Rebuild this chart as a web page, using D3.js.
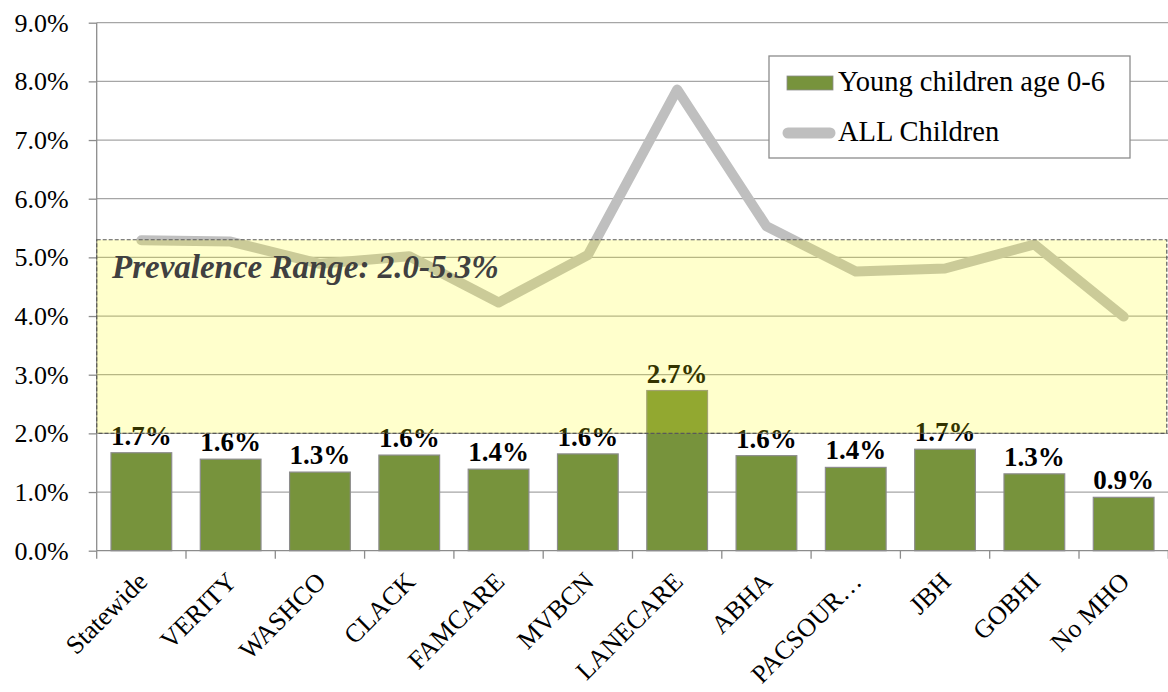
<!DOCTYPE html>
<html lang="en">
<head>
<meta charset="utf-8">
<title>Young children vs all children</title>
<script src="https://d3js.org/d3.v7.min.js"></script>
<style>
    body { margin: 0; background: white; }
    svg text { font-family: "Liberation Serif", "Times New Roman", serif; }
    .grid line { stroke: #a6a6a6; stroke-width: 1.3px; }
    .axis path, .axis line { stroke: #8c8c8c; stroke-width: 1.3px; }
</style>
</head>
<body>
<svg width="1168" height="692"></svg>
<script>
    // data
    var categories = ["Statewide", "VERITY", "WASHCO", "CLACK", "FAMCARE", "MVBCN",
        "LANECARE", "ABHA", "PACSOUR\u2026", "JBH", "GOBHI", "No MHO"];
    var youngChildren = [1.67, 1.56, 1.34, 1.63, 1.39, 1.65, 2.73, 1.62, 1.42, 1.73, 1.31, 0.91];
    var youngLabels = ["1.7%", "1.6%", "1.3%", "1.6%", "1.4%", "1.6%", "2.7%", "1.6%", "1.4%", "1.7%", "1.3%", "0.9%"];
    var allChildren = [5.29, 5.27, 4.89, 5.02, 4.23, 5.04, 7.86, 5.53, 4.76, 4.81, 5.22, 3.99];
    var yTicks = [0, 1, 2, 3, 4, 5, 6, 7, 8, 9];
    var prevalenceRange = [2.0, 5.3];

    var svg = d3.select("svg");

    // plot box (note: "top" is reserved on window, so use other names)
    var plotL = 96.7, plotR = 1168.3, plotT = 22.7, plotB = 550.7;

    var x = d3.scaleBand().domain(categories).range([plotL, plotR]).padding(0);
    var y = d3.scaleLinear().domain([0, 9]).range([plotB, plotT]);
    var barW = x.bandwidth() * 0.68;

    // gridlines
    svg.append("g")
        .attr("class", "grid")
        .selectAll("line")
        .data(yTicks.filter(function(d) { return d > 0; }))
        .enter().append("line")
        .attr("x1", plotL).attr("x2", plotR)
        .attr("y1", function(d) { return y(d); })
        .attr("y2", function(d) { return y(d); });

    // y axis
    var yAxis = svg.append("g")
        .attr("class", "axis")
        .attr("transform", "translate(" + plotL + ",0)")
        .call(d3.axisLeft(y).tickValues(yTicks).tickSize(8).tickPadding(20)
            .tickFormat(function(d) { return d.toFixed(1) + "%"; }));
    yAxis.select(".domain").attr("d", "M0," + plotB + "V" + plotT);
    yAxis.selectAll("text")
        .attr("font-size", "26px")
        .attr("font-family", "Liberation Serif, Times New Roman, serif")
        .attr("fill", "#000");

    // bars
    svg.selectAll(".bar")
        .data(categories)
        .enter().append("rect")
        .attr("class", "bar")
        .attr("x", function(d) { return x(d) + (x.bandwidth() - barW) / 2; })
        .attr("width", barW)
        .attr("y", function(d, i) { return y(youngChildren[i]); })
        .attr("height", function(d, i) { return plotB - y(youngChildren[i]); })
        .attr("fill", "#77933c")
        .attr("stroke", "#8c8c8c")
        .attr("stroke-width", 1.2);

    // x axis
    var xAxis = svg.append("g")
        .attr("class", "axis")
        .attr("transform", "translate(0," + plotB + ")");
    xAxis.append("line")
        .attr("x1", plotL).attr("x2", plotR)
        .attr("y1", 0).attr("y2", 0);
    xAxis.selectAll(".tick")
        .data(categories.concat(["end"]))
        .enter().append("line")
        .attr("x1", function(d, i) { return plotL + i * x.step(); })
        .attr("x2", function(d, i) { return plotL + i * x.step(); })
        .attr("y1", 0).attr("y2", 8);

    svg.selectAll(".xlabel")
        .data(categories)
        .enter().append("text")
        .attr("class", "xlabel")
        .attr("transform", function(d) {
            return "translate(" + (x(d) + x.bandwidth() / 2 + 1) + "," + (plotB + 26) + ") rotate(-45)";
        })
        .attr("text-anchor", "end")
        .attr("dy", "0.35em")
        .attr("font-size", "26px")
        .text(function(d) { return d; });

    // bar value labels
    svg.selectAll(".vlabel")
        .data(categories)
        .enter().append("text")
        .attr("class", "vlabel")
        .attr("x", function(d) { return x(d) + x.bandwidth() / 2; })
        .attr("y", function(d, i) { return y(youngChildren[i]) - 8; })
        .attr("text-anchor", "middle")
        .attr("font-size", "27px")
        .attr("font-weight", "bold")
        .text(function(d, i) { return youngLabels[i]; });

    // ALL children line
    var line = d3.line()
        .x(function(d, i) { return x(categories[i]) + x.bandwidth() / 2; })
        .y(function(d) { return y(d); });
    svg.append("path")
        .datum(allChildren)
        .attr("d", line)
        .attr("fill", "none")
        .attr("stroke", "#bfbfbf")
        .attr("stroke-width", 10)
        .attr("stroke-linejoin", "round")
        .attr("stroke-linecap", "round");

    // prevalence band on top
    svg.append("rect")
        .attr("x", plotL)
        .attr("width", plotR - plotL - 1.5)
        .attr("y", y(prevalenceRange[1]))
        .attr("height", y(prevalenceRange[0]) - y(prevalenceRange[1]))
        .attr("fill", "rgba(255,255,0,0.2)")
        .attr("stroke", "#595959")
        .attr("stroke-width", 1.2)
        .attr("stroke-dasharray", "4,2");

    svg.append("text")
        .attr("x", 112)
        .attr("y", 278)
        .attr("font-size", "33px")
        .attr("font-weight", "bold")
        .attr("font-style", "italic")
        .attr("fill", "#404040")
        .text("Prevalence Range: " + prevalenceRange[0].toFixed(1) + "-" + prevalenceRange[1].toFixed(1) + "%");

    // legend
    var legend = svg.append("g");
    legend.append("rect")
        .attr("x", 769).attr("y", 56)
        .attr("width", 361).attr("height", 102)
        .attr("fill", "white")
        .attr("stroke", "#8c8c8c")
        .attr("stroke-width", 1.3);
    legend.append("rect")
        .attr("x", 787).attr("y", 76)
        .attr("width", 46).attr("height", 14)
        .attr("fill", "#77933c")
        .attr("stroke", "#8c8c8c")
        .attr("stroke-width", 0.8);
    legend.append("text")
        .attr("x", 838).attr("y", 91)
        .attr("font-size", "28.5px")
        .text("Young children age 0-6");
    legend.append("line")
        .attr("x1", 788).attr("x2", 830)
        .attr("y1", 133).attr("y2", 133)
        .attr("stroke", "#bfbfbf")
        .attr("stroke-width", 11)
        .attr("stroke-linecap", "round");
    legend.append("text")
        .attr("x", 838).attr("y", 141)
        .attr("font-size", "28.5px")
        .text("ALL Children");
</script>
</body>
</html>
